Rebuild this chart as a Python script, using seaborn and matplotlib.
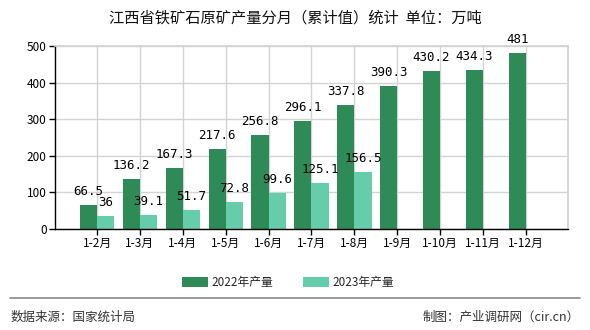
import matplotlib
matplotlib.use("Agg")
import matplotlib.pyplot as plt
from matplotlib.lines import Line2D
import seaborn as sns
import pandas as pd

categories = ["1-2月", "1-3月", "1-4月", "1-5月", "1-6月", "1-7月", "1-8月",
              "1-9月", "1-10月", "1-11月", "1-12月"]
values_2022 = [66.5, 136.2, 167.3, 217.6, 256.8, 296.1, 337.8, 390.3, 430.2, 434.3, 481]
values_2023 = [36, 39.1, 51.7, 72.8, 99.6, 125.1, 156.5]
series_names = ["2022年产量", "2023年产量"]
colors = ["#2e8b57", "#66cdaa"]

sns.set_theme(style="white")
plt.rcParams['font.family'] = ['Noto Sans CJK SC', 'DejaVu Sans']

rows = []
for c, v in zip(categories, values_2022):
    rows.append({"月份": c, "产量": v, "系列": series_names[0]})
for c, v in zip(categories, values_2023):
    rows.append({"月份": c, "产量": v, "系列": series_names[1]})
df = pd.DataFrame(rows)

fig = plt.figure(figsize=(5.9, 3.3), dpi=100)
ax = fig.add_axes([0.0932, 0.306, 0.8695, 0.555])

sns.barplot(data=df, x="月份", y="产量", hue="系列", order=categories,
            hue_order=series_names, palette=colors, width=0.8,
            saturation=1, linewidth=0, edgecolor="none", ax=ax, legend=True)

ax.set_xlim(-0.98, 10.98)
ax.set_ylim(0, 500)
ax.set_yticks([0, 100, 200, 300, 400, 500])
ax.set_xlabel("")
ax.set_ylabel("")
ax.grid(True, color="#d3d3d3", linewidth=1)
ax.set_axisbelow(True)
for s in ["top", "right"]:
    ax.spines[s].set_color("#d3d3d3")
for s in ["left", "bottom"]:
    ax.spines[s].set_color("black")
    ax.spines[s].set_linewidth(1)
ax.tick_params(axis="both", labelsize=8.5, colors="black", length=4, width=1,
               left=True, bottom=True, pad=2)

label_sets = [values_2022, values_2023]
for cont, vals in zip(ax.containers, label_sets):
    ax.bar_label(cont, labels=[f"{v:g}" for v in vals], padding=5,
                 fontsize=9, family="DejaVu Sans Mono", color="black")

ax.legend(loc="upper center", bbox_to_anchor=(0.455, -0.2), ncol=2,
          frameon=False, fontsize=8.5, handlelength=2.2, handleheight=0.9,
          columnspacing=2.5, handletextpad=0.3)

fig.text(0.5, 0.945, "江西省铁矿石原矿产量分月（累计值）统计  单位：万吨",
         ha="center", va="center", fontsize=11, fontweight="medium", color="#111111")
fig.add_artist(Line2D([0.017, 0.983], [0.097, 0.097], transform=fig.transFigure,
                      color="#888888", linewidth=1.2))
fig.text(0.018, 0.04, "数据来源：国家统计局", ha="left", va="center",
         fontsize=9, color="#333333")
fig.text(0.982, 0.04, "制图：产业调研网（cir.cn）", ha="right", va="center",
         fontsize=9, color="#333333")

fig.savefig("out.png", dpi=100)
